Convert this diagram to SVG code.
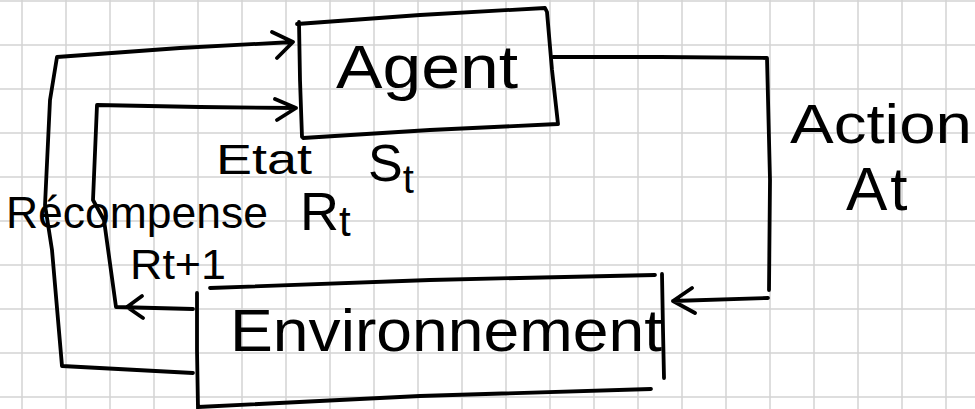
<svg xmlns="http://www.w3.org/2000/svg" width="975" height="409" viewBox="0 0 975 409">
<style>
.grid{stroke:#d3d3d3;stroke-width:1.5}
.ink{fill:none;stroke:#000;stroke-width:3.8;stroke-linecap:round;stroke-linejoin:round}
.lbl{font-family:"Liberation Sans",Arial,sans-serif;fill:#000}
</style>
<rect width="975" height="409" fill="#fff"/>
<g id="grid" class="grid">
<path d="M22,0V409M66,0V409M110,0V409M154,0V409M198,0V409M242,0V409M286,0V409M330,0V409M374,0V409M418,0V409M462,0V409M506,0V409M550,0V409M594,0V409M638,0V409M682,0V409M726,0V409M770,0V409M814,0V409M858,0V409M902,0V409M946,0V409"/>
<path d="M0,1H975M0,45H975M0,89H975M0,133H975M0,177H975M0,221H975M0,265H975M0,309H975M0,353H975M0,397H975"/>
</g>
<g id="agent">
<path class="ink" d="M297,24 L420,15 L545,8 L547,12 L552,70 L558,124 L430,130 L303,138 M299,22 L300,80 L302,137"/>
<text class="lbl" x="336" y="88" font-size="62" textLength="182" lengthAdjust="spacingAndGlyphs">Agent</text>
</g>
<g id="environment">
<path class="ink" d="M210,288 L430,280 L655,275 M197,293 L197,350 L198,409 M198,407 L420,396 L651,389 M662,274 L663,330 L664,378"/>
<text class="lbl" x="230" y="351" font-size="60" textLength="432" lengthAdjust="spacingAndGlyphs">Environnement</text>
</g>
<g id="connectors" class="ink">
<path d="M553,57 L660,57 L767,58 L770,180 L769,290"/>
<path d="M768,298 L673,301 M692,288 L673,301 L695,313"/>
<path d="M193,373 L62,366 L52,250 L45,205 L50,100 L57,57 L180,48 L293,42 M272,32 L293,42 L277,58"/>
<path d="M193,309 L116,307 L104,220 L93,200 L97,105 L200,107 L296,108 M275,99 L296,108 L277,120 M142,296 L127,307 L143,318"/>
</g>
<g id="labels">
<text class="lbl" x="216" y="174" font-size="42" textLength="96" lengthAdjust="spacingAndGlyphs">Etat</text>
<text class="lbl" x="368" y="181" font-size="52">S<tspan font-size="40" dy="12">t</tspan></text>
<text class="lbl" x="6" y="228" font-size="44" textLength="262" lengthAdjust="spacingAndGlyphs">Récompense</text>
<text class="lbl" x="300" y="230" font-size="54">R<tspan font-size="42" dy="6">t</tspan></text>
<text class="lbl" x="130" y="279" font-size="42" textLength="96" lengthAdjust="spacingAndGlyphs">Rt+1</text>
<text class="lbl" x="790" y="143" font-size="56" textLength="182" lengthAdjust="spacingAndGlyphs">Action</text>
<text class="lbl" x="846" y="210" font-size="62">A<tspan dx="3">t</tspan></text>
</g>
</svg>
